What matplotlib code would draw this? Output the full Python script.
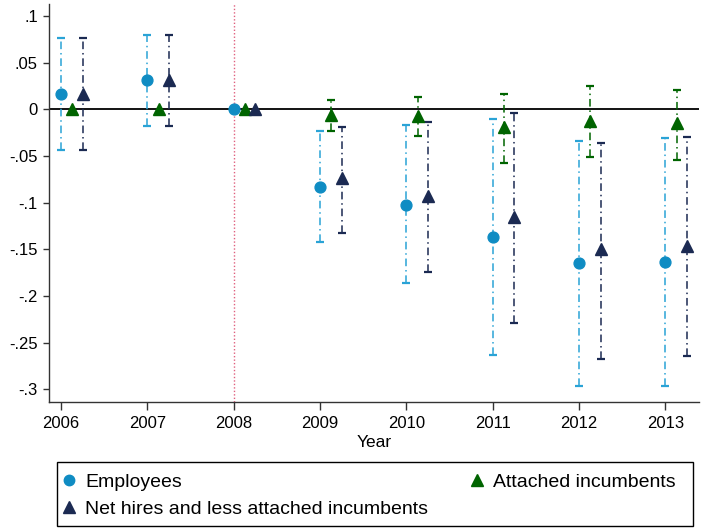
import numpy as np
import matplotlib
matplotlib.use("Agg")
import matplotlib.pyplot as plt
from matplotlib.lines import Line2D
from matplotlib.patches import Rectangle

plt.rcParams['font.family'] = ['Liberation Sans', 'DejaVu Sans']

years = [2006, 2007, 2008, 2009, 2010, 2011, 2012, 2013]

# Employees
emp = [0.017, 0.031, 0.0, -0.083, -0.102, -0.137, -0.165, -0.164]
emp_lo = [-0.043, -0.018, np.nan, -0.142, -0.186, -0.263, -0.296, -0.296]
emp_hi = [0.077, 0.080, np.nan, -0.023, -0.017, -0.010, -0.034, -0.031]

# Attached incumbents
att = [0.0, 0.0, 0.0, -0.006, -0.007, -0.019, -0.012, -0.015]
att_lo = [np.nan, np.nan, np.nan, -0.023, -0.029, -0.057, -0.051, -0.054]
att_hi = [np.nan, np.nan, np.nan, 0.010, 0.013, 0.016, 0.025, 0.021]

# Net hires and less attached incumbents
net = [0.017, 0.031, 0.0, -0.074, -0.093, -0.115, -0.150, -0.146]
net_lo = [-0.043, -0.018, np.nan, -0.133, -0.174, -0.229, -0.268, -0.264]
net_hi = [0.077, 0.080, np.nan, -0.019, -0.014, -0.004, -0.036, -0.030]

labels = ["Employees", "Attached incumbents", "Net hires and less attached incumbents"]
yticks = [0.1, 0.05, 0, -0.05, -0.1, -0.15, -0.2, -0.25, -0.3]
ytick_labels = [".1", ".05", "0", "-.05", "-.1", "-.15", "-.2", "-.25", "-.3"]

c_emp = "#0f8cc3"
c_emp_ci = "#2aa3d6"
c_att = "#006400"
c_net = "#1b2a52"
c_ref = "#e0607e"

fig = plt.figure(figsize=(7.02, 5.30), dpi=100)
ax = fig.add_axes([49/702, 1-401.7/530, 650/702, 397.7/530])

ax.axhline(0, color="black", lw=1.3, zorder=1)
ax.axvline(2008, color=c_ref, lw=1.0, ls=(0, (1, 1.5)), zorder=1)

def draw(offset, vals, lo, hi, color, cicolor, marker, ms, dash):
    x = np.array(years, dtype=float) + offset
    v = np.array(vals, dtype=float)
    lo = np.array(lo, dtype=float)
    hi = np.array(hi, dtype=float)
    m = ~np.isnan(lo)
    ax.vlines(x[m], lo[m], hi[m], colors=cicolor, lw=1.1, linestyles=[dash], zorder=2)
    ax.plot(x[m], lo[m], ls="none", marker="_", ms=6, mew=1.6, color=cicolor, zorder=2)
    ax.plot(x[m], hi[m], ls="none", marker="_", ms=6, mew=1.6, color=cicolor, zorder=2)
    ax.plot(x, v, ls="none", marker=marker, ms=ms, color=color, mec=color, zorder=3)

draw(0.0, emp, emp_lo, emp_hi, c_emp, c_emp_ci, "o", 7.8, (0, (5, 2.5, 1, 2.5)))
draw(0.13, att, att_lo, att_hi, c_att, c_att, "^", 9.0, (0, (5, 2.5, 1, 2.5)))
draw(0.25, net, net_lo, net_hi, c_net, c_net, "^", 9.0, (0, (5, 2.5, 1, 2.5)))

ax.set_xlim(2005.86, 2013.39)
ax.set_ylim(-0.3133, 0.113)
ax.set_xticks(years)
ax.set_xticklabels([str(y) for y in years], fontsize=12)
ax.set_yticks(yticks)
ax.set_yticklabels(ytick_labels, fontsize=12)
ax.set_xlabel("Year", fontsize=12.5, labelpad=3)

for s in ["top", "right"]:
    ax.spines[s].set_visible(False)
for s in ["left", "bottom"]:
    ax.spines[s].set_color("#333333")
    ax.spines[s].set_linewidth(1.0)
ax.tick_params(axis="x", length=6, width=1.0, color="#333333", pad=4)
ax.tick_params(axis="y", length=4.5, width=1.0, color="#333333", pad=3.5)

handles = [
    Line2D([], [], ls="none", marker="o", ms=7.5, color=c_emp),
    Line2D([], [], ls="none", marker="^", ms=8.5, color=c_net),
    Line2D([], [], ls="none", marker="^", ms=8.5, color=c_att),
]
hl = [labels[0], labels[2], labels[1]]
leg = fig.legend(handles, hl, loc="upper left",
                 bbox_to_anchor=(62.5/702, 1-473.6/530),
                 ncol=2, fontsize=14, frameon=False,
                 handlelength=0.7, handletextpad=0.46, columnspacing=2.16,
                 labelspacing=0.48, borderpad=0, borderaxespad=0)

fig.add_artist(Rectangle((56.7/702, 1-526/530), 636.6/702, 63.7/530,
                         transform=fig.transFigure, fill=False,
                         edgecolor="black", lw=1.0))

fig.savefig("out.png", dpi=100)
